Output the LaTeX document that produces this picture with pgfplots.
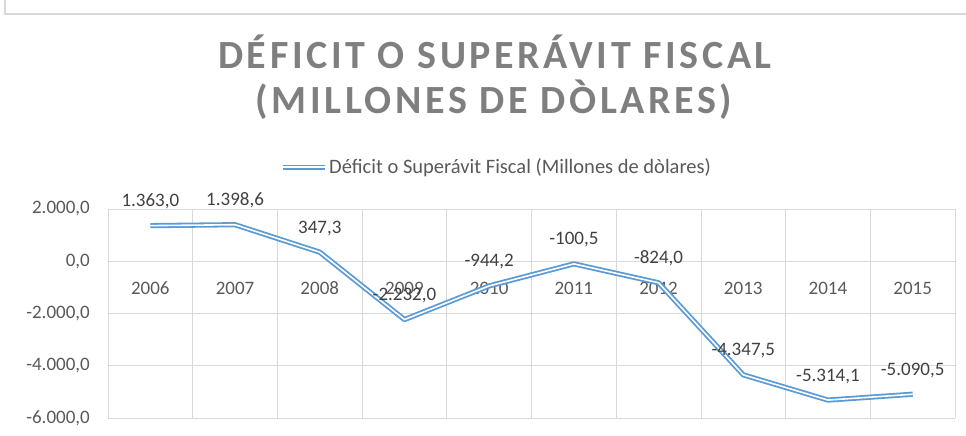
\documentclass[border=0pt]{standalone}
\usepackage{pgfplots}
\pgfplotsset{compat=1.18}
\usepackage{pgfplotstable}
\usepackage{fontspec}
\setmainfont{Carlito}
\newfontfamily\titlefam{Carlito}[LetterSpace=9]
\definecolor{lineblue}{HTML}{5B9BD5}
\definecolor{gridgray}{HTML}{D9D9D9}
\definecolor{tickgray}{HTML}{595959}
\definecolor{labelgray}{HTML}{404040}
\definecolor{titlegray}{HTML}{7F7F7F}
\pgfplotstableread{
x y label
0 1363.0 1.363,0
1 1398.6 1.398,6
2 347.3 347,3
3 -2232.0 -2.232,0
4 -944.2 -944,2
5 -100.5 -100,5
6 -824.0 -824,0
7 -4347.5 -4.347,5
8 -5314.1 -5.314,1
9 -5090.5 -5.090,5
}\datatable
\begin{document}
\begin{tikzpicture}[x=1pt,y=1pt]
\useasboundingbox (0,0) rectangle (966,436);
\draw[gridgray, line width=1.5pt] (5,436) -- (5,422) -- (966,422);
\node[anchor=base, text=titlegray, font={\titlefam\bfseries\fontsize{40}{44}\selectfont}] at (495,367) {DÉFICIT O SUPERÁVIT FISCAL};
\node[anchor=base, text=titlegray, font={\titlefam\bfseries\fontsize{40}{44}\selectfont}] at (494,322) {(MILLONES DE DÒLARES)};
\begin{axis}[
  at={(108pt,18pt)}, anchor=south west,
  scale only axis, width=847pt, height=209pt,
  xmin=-0.5, xmax=9.5, ymin=-6000, ymax=2000,
  axis x line*=middle, axis y line*=left,
  axis line style={draw=none},
  major tick style={draw=none}, minor tick style={draw=none},
  xtick={0,...,9},
  xticklabels={2006,2007,2008,2009,2010,2011,2012,2013,2014,2015},
  minor xtick={-0.5,0.5,...,9.5},
  xmajorgrids=false, xminorgrids=true, ymajorgrids=true,
  grid style={gridgray, line width=0.8pt},
  minor grid style={gridgray, line width=0.8pt},
  ytick={-6000,-4000,-2000,0,2000},
  yticklabel style={anchor=east, inner sep=0pt, xshift=-18pt, text=tickgray, font=\fontsize{19}{22}\selectfont},
  xticklabel style={anchor=base, inner sep=0pt, yshift=-33pt, text=tickgray, font=\fontsize{19}{22}\selectfont},
  /pgf/number format/.cd, assume math mode=true, fixed, fixed zerofill, precision=1, use comma, 1000 sep={.},
  /pgfplots/.cd,
  legend style={at={(0.4587,1.2)}, anchor=center, draw=none, fill=none, text=tickgray, font=\fontsize{20.5}{22}\selectfont, inner sep=0pt},
  legend image code/.code={\draw[#1] (0pt,0pt) -- (42pt,0pt);},
  clip=false,
]
\addplot[draw=lineblue, line width=1.8pt, double=white, double distance=1.6pt, line join=round,
  nodes near coords, point meta=explicit symbolic,
  every node near coord/.append style={anchor=base, inner sep=0pt, yshift=19pt, text=labelgray, font=\fontsize{19}{22}\selectfont}]
  table[x=x, y=y, meta=label] {\datatable};
\addlegendentry{Déficit o Superávit Fiscal (Millones de dòlares)}
\end{axis}
\end{tikzpicture}
\end{document}
